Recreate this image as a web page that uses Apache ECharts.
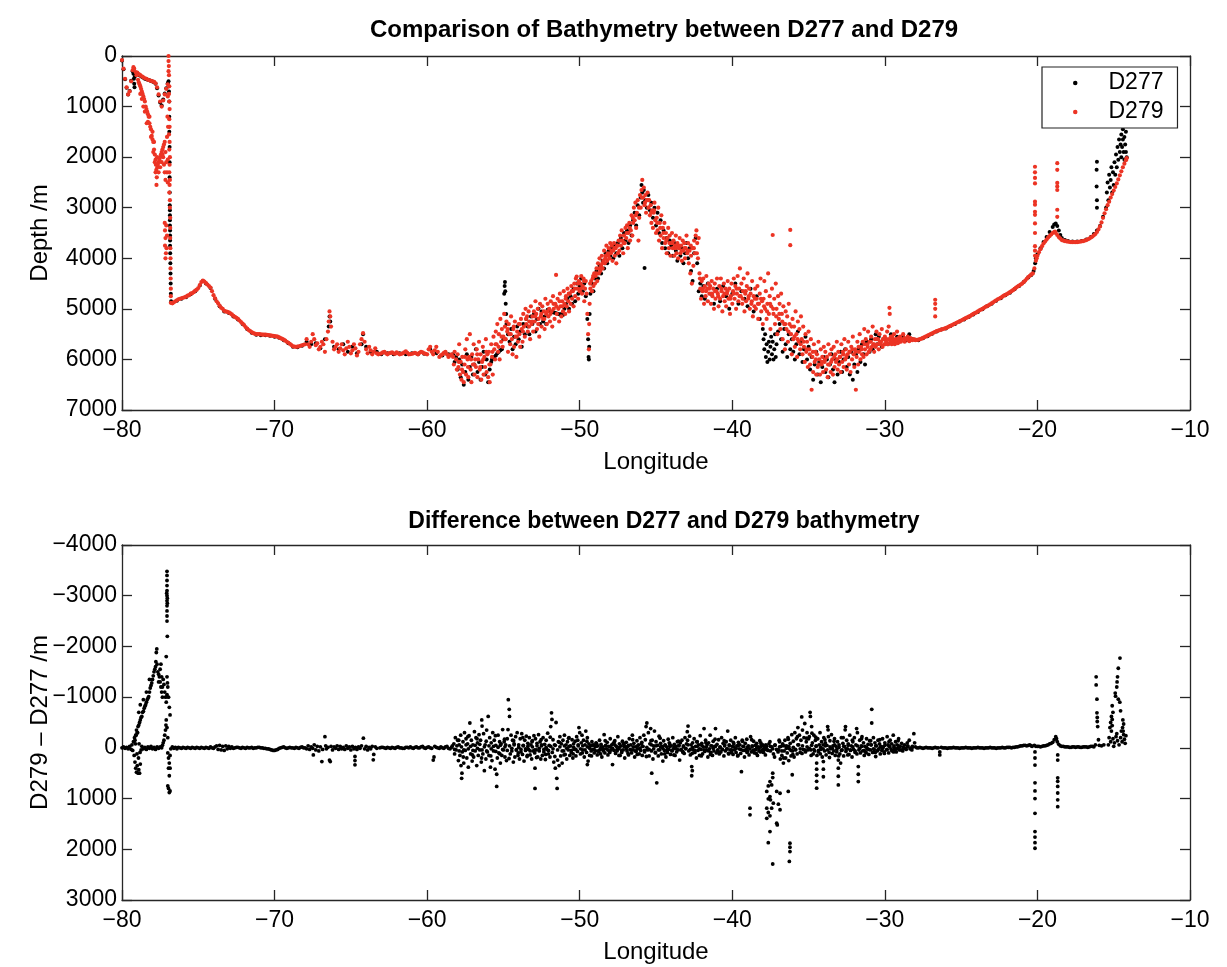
<!DOCTYPE html>
<html>
<head>
<meta charset="utf-8">
<script src="https://cdn.jsdelivr.net/npm/echarts@6/dist/echarts.min.js"></script>
<style>
html,body{margin:0;padding:0;background:#fff;}
#chart{width:1227px;height:967px;}
</style>
</head>
<body>
<div id="chart"></div>
<script>
// ---------- DATA (longitude, depth m) ----------
// D279 (red) top panel
const d279West = [[-80,80],[-79.9,250],[-79.8,450],[-79.7,620],[-79.6,760],[-79.5,700],[-79.4,500],[-79.3,280],[-79.25,220],[-79.2,250],[-79.1,320],[-79.0,330],[-78.9,360],[-78.8,380],[-78.7,400],[-78.6,420],[-78.5,440],[-78.4,450],[-78.3,470],[-78.2,480],[-78.1,490],[-78.0,500],[-77.9,510],[-77.8,540],[-77.7,620],[-77.6,760],[-77.5,900],[-77.4,1000],[-77.3,880],[-77.2,760],[-77.1,650],[-77.0,560],
[-79.05,380],[-78.95,470],[-78.9,520],[-78.85,560],[-78.8,600],[-78.75,650],[-78.7,700],[-78.65,750],[-78.6,800],[-78.55,850],[-78.5,900],[-78.45,1000],[-78.4,1050],[-78.35,1100],[-78.3,1150],[-78.25,1200],[-78.2,1330],[-78.15,1400],[-78.1,1450],[-78.05,1580],[-78.0,1650],[-77.95,1700],[-77.9,1850],[-77.85,1950],[-77.8,2050],[-77.78,2150],[-77.75,2250],[-77.72,2400],[-77.74,2550],[-77.68,2200],[-77.65,2150],[-77.6,2100],[-77.55,2050],[-77.5,2000],[-77.45,1950],[-77.4,1900],[-77.35,1850],[-77.3,1800],[-77.25,1750],[-77.2,1700],[-77.15,1900],[-77.1,2100],[-77.05,2300],[-77.0,2050],[-78.38,1330],[-78.6,1000],
[-78.3,1300],[-78.2,1200],[-78.1,1600],[-78.0,1500],[-77.9,1700],[-77.85,2100],[-77.95,1900],[-77.8,2300],[-77.7,2000],[-77.6,2300],[-77.5,2200],[-77.4,2100],[-77.3,2000],[-78.5,1100],[-78.7,850],[-78.8,750],
[-76.95,0],[-76.95,100],[-76.93,200],[-76.95,300],[-76.92,380],[-76.9,600],[-76.92,750],[-76.9,900],[-76.88,1050],[-76.9,1250],[-76.88,1400],[-76.92,1550],[-76.88,1700],[-76.9,1850],[-76.86,2000],[-76.88,2150],[-76.9,2300],[-76.86,2450],[-76.88,2550],[-76.9,2700],[-76.86,2850],[-76.86,3000],[-76.84,3200],[-76.84,3400],[-76.84,3600],[-76.83,3800],[-76.82,4000],[-76.82,4200],[-76.81,4400],[-76.8,4600],[-76.8,4750],
[-77.2,3300],[-77.18,3450],[-77.15,3600],[-77.18,3750],[-77.12,3900],[-77.15,4000],[-77.1,3350],[-77.05,3550],[-77.08,3800],[-77.35,1950],[-77.25,2150],[-77.2,2300],[-77.15,2450],[-77.05,1600],[-77.0,2500],[-77.02,1200],[-77.0,800],[-76.98,1400]];

const d279Shelf = [[-76.8,4880],[-76.7,4890],[-76.6,4870],[-76.5,4850],[-76.4,4830],[-76.3,4810],[-76.2,4800],[-76.1,4790],[-76.0,4780],[-75.9,4770],[-75.8,4760],[-75.7,4740],[-75.6,4730],[-75.5,4700],[-75.4,4690],[-75.3,4670],[-75.2,4640],[-75.1,4620],[-75.0,4590],[-74.9,4530],[-74.8,4470],[-74.7,4440],[-74.6,4460],[-74.5,4490],[-74.4,4520],[-74.3,4550],[-74.2,4580],[-74.1,4650],[-74.0,4730],[-73.9,4790],[-73.8,4850],[-73.7,4890],[-73.6,4940],[-73.5,4980],[-73.4,5000],[-73.3,5040],[-73.2,5050],[-73.1,5060],[-73.0,5070],[-72.9,5090],[-72.8,5110],[-72.7,5140],[-72.6,5160],[-72.5,5180],[-72.4,5200],[-72.3,5230],[-72.2,5260],[-72.1,5290],[-72.0,5320],[-71.9,5360],[-71.8,5390],[-71.7,5420],[-71.6,5440],[-71.5,5460],[-71.4,5480],[-71.3,5490],[-71.2,5500],[-71.1,5500],[-71.0,5500],[-70.9,5505],[-70.8,5510],[-70.7,5510],[-70.6,5510],[-70.5,5515],[-70.4,5520],[-70.3,5525],[-70.2,5530],[-70.1,5535],[-70.0,5540],[-69.9,5545],[-69.8,5550],[-69.7,5565],[-69.6,5580],[-69.5,5595],[-69.4,5610],[-69.3,5630],[-69.2,5650],[-69.1,5670],[-69.0,5690],[-68.9,5715],[-68.8,5740],[-68.7,5745],[-68.6,5750],[-68.5,5745],[-68.4,5740],[-68.3,5730],[-68.2,5720],[-68.1,5710],[-68.0,5700]];

const d279Plain = [[-67.9,5600],[-67.8,5700],[-67.7,5750],[-67.6,5650],[-67.5,5500],[-67.4,5600],[-67.3,5720],[-67.2,5680],[-67.1,5800],[-67.0,5750],[-66.9,5650],[-66.8,5700],[-66.7,5850],[-66.6,5600],[-66.5,5450],[-66.45,5250],[-66.4,5050],[-66.35,5150],[-66.3,5350],[-66.2,5650],[-66.1,5800],[-66.0,5750],[-65.9,5700],[-65.8,5850],[-65.7,5780],[-65.6,5700],[-65.5,5820],[-65.4,5900],[-65.3,5780],[-65.2,5650],[-65.1,5750],[-65.0,5880],[-64.9,5820],[-64.8,5700],[-64.7,5780],[-64.6,5920],[-64.5,5850],[-64.4,5700],[-64.3,5600],[-64.2,5480],[-64.1,5650],[-64.0,5800],[-63.9,5880],[-63.8,5750],[-63.7,5820],[-63.6,5900],[-63.5,5850],[-63.4,5780],[-63.3,5880],[-63.2,5900],[-63.1,5890],[-63.0,5880],[-62.9,5860],[-62.8,5850],[-62.7,5880],[-62.6,5900],[-62.5,5880],[-62.4,5870],[-62.3,5860],[-62.2,5880],[-62.1,5890],[-62.0,5860],[-61.9,5880],[-61.8,5900],[-61.7,5890],[-61.6,5880],[-61.5,5860],[-61.4,5840],[-61.3,5870],[-61.2,5900],[-61.1,5895],[-61.0,5890],[-60.9,5880],[-60.8,5870],[-60.7,5885],[-60.6,5900],[-60.5,5870],[-60.4,5850],[-60.3,5860],[-60.2,5880],[-60.1,5890],[-60.0,5900],[-59.9,5800],[-59.8,5750],[-59.7,5850],[-59.6,5900],[-59.5,5820],[-59.4,5750],[-59.3,5850],[-59.2,5950],[-59.1,5920],[-59.0,5900],[-58.9,5870],[-58.8,5850],[-58.7,5900],[-58.6,5950],[-58.5,5920],[-58.4,5900]];

const d279Ridge = [[-58.3,5950],[-58.25,6100],[-58.2,5850],[-58.1,6000],[-58.05,6200],[-58.0,5900],[-57.95,6150],[-57.9,5700],[-57.85,6300],[-57.8,6050],[-57.75,6400],[-57.7,5950],[-57.65,6250],[-57.6,6450],[-57.55,6100],[-57.5,5800],[-57.45,6300],[-57.4,5600],[-57.35,6000],[-57.3,6350],[-57.25,5950],[-57.2,5500],[-57.15,6200],[-57.1,6450],[-57.05,5900],[-57.0,6100],[-56.95,5700],[-56.9,6300],[-56.85,6000],[-56.8,6150],[-56.75,5800],[-56.7,6350],[-56.65,6000],[-56.6,5650],[-56.55,6200],[-56.5,5900],[-56.45,6400],[-56.4,6050],[-56.35,5750],[-56.3,6300],[-56.25,5950],[-56.2,6150],[-56.15,5600],[-56.1,6250],[-56.05,5900],[-56.0,6350],[-55.95,5850],[-55.9,6450],[-55.85,6100],[-55.8,5700],[-55.75,5950],[-55.7,6300],[-55.65,5550],[-55.6,5800],[-55.55,6000],[-55.5,5450],[-55.45,5700],[-55.4,5300],[-55.35,5850],[-55.3,5500],[-55.25,6000],[-55.2,5200],[-55.15,5650],[-55.1,5400],[-55.05,5750],[-55.0,5550],[-54.95,5100],[-54.9,5350],[-54.85,5600],[-54.8,5250],[-54.75,5450],[-54.7,5850],[-54.65,5300],[-54.6,5500],[-54.55,5700],[-54.5,5150],[-54.45,5600],[-54.4,5900],[-54.35,5400],[-54.3,5750],[-54.25,5250],[-54.2,5550],[-54.15,5950],[-54.1,5450],[-54.05,5650],[-54.0,5300],[-53.95,5500],[-53.9,5750],[-53.85,5200],[-53.8,5400],[-53.75,5650],[-53.7,5100],[-53.65,5350],[-53.6,5550],[-53.55,5000],[-53.5,5300],[-53.45,5150],[-53.4,5450],[-53.35,5050],[-53.3,5250],[-53.25,5600],[-53.2,4950],[-53.15,5300],[-53.1,5150],[-53.05,5450],[-53.0,5050],[-52.95,5250],[-52.9,4850],[-52.85,5100],[-52.8,5400],[-52.75,5000],[-52.7,5200],[-52.65,5550],[-52.6,4900],[-52.55,5150],[-52.5,5350],[-52.45,4950],[-52.4,5200],[-52.35,5050],[-52.3,5400],[-52.25,4800],[-52.2,5100],[-52.15,5300],[-52.1,4900],[-52.05,5150],[-52.0,5000],[-51.95,5250],[-51.9,4850],[-51.85,5050],[-51.8,5350],[-51.75,4750],[-51.7,5000],[-51.65,5200],[-51.6,4900],[-51.55,4330],[-51.5,5100],[-51.45,4800],[-51.4,5000],[-51.35,5250],[-51.3,4700],[-51.25,4950],[-51.2,5150],[-51.15,4850],[-51.1,5050],[-51.05,4650],[-51.0,4900],[-50.95,5100],[-50.9,4750],[-50.85,4950],[-50.8,4600],[-50.75,4850],[-50.7,5050],[-50.65,4700],[-50.6,4900],[-50.55,4550],[-50.5,4800],[-50.45,4650],[-50.4,4950],[-50.35,4500],[-50.3,4750],[-50.25,4400],[-50.2,4360],[-50.15,4600],[-50.1,4800],[-50.05,4450],[-50.0,4650],[-49.95,4500],[-49.9,4350],[-49.85,4700],[-49.8,4550],[-49.75,4400],[-49.7,4850],[-49.65,4600],[-49.6,4450],[-49.55,4700],[-49.5,5100],[-49.45,5500],[-49.4,5800],[-49.38,5300],[-49.35,4900],[-49.3,4600],[-49.25,4450],[-49.2,4650],[-49.15,4400],[-49.1,4550],[-49.05,4300],[-49.0,4500],[-48.95,4350],[-48.9,4200],[-48.85,4450],[-48.8,4100],[-48.75,4300],[-48.7,4000],[-48.65,4250],[-48.6,4150],[-48.55,3950],[-48.5,4200],[-48.45,4050],[-48.4,3850],[-48.35,4100],[-48.3,3950],[-48.25,3750],[-48.2,4050],[-48.15,3900],[-48.1,3800],[-48.05,4000],[-48.0,3700],[-47.95,3900],[-47.9,3750],[-47.85,4050],[-47.8,3850],[-47.75,3700],[-47.7,3950],[-47.65,3800],[-47.6,4100],[-47.55,3750],[-47.5,3900],[-47.45,3650],[-47.4,3850],[-47.35,3550],[-47.3,3750],[-47.25,3450],[-47.2,3650],[-47.15,3900],[-47.1,3550],[-47.05,3700],[-47.0,3400],[-46.95,3600],[-46.9,3350],[-46.85,3800],[-46.8,3500],[-46.75,3300],[-46.7,3650],[-46.65,3450],[-46.6,3150],[-46.55,3550],[-46.5,3300],[-46.45,3000],[-46.4,3250],[-46.35,2900],[-46.3,3400],[-46.25,3100],[-46.2,2850],[-46.15,3650],[-46.1,3200],[-46.05,2750],[-46.0,3000],[-45.95,2650],[-45.9,2450],[-45.85,2800],[-45.8,2600],[-45.75,2950],[-45.7,2750],[-45.65,3100],[-45.6,2850],[-45.55,2700],[-45.5,3000],[-45.45,2850],[-45.4,3150],[-45.35,2950],[-45.3,3300],[-45.25,3050],[-45.2,3400],[-45.15,3100],[-45.1,2900],[-45.05,3250],[-45.0,3500],[-44.95,3200],[-44.9,3450],[-44.85,3000],[-44.8,3650],[-44.75,3300],[-44.7,3550],[-44.65,3150],[-44.6,3800],[-44.55,3400],[-44.5,3600],[-44.45,3300],[-44.4,3700],[-44.35,3500],[-44.3,3900],[-44.25,3600],[-44.2,3400],[-44.15,3800],[-44.1,3550],[-44.05,3950],[-44.0,3700],[-43.95,3500],[-43.9,3800],[-43.85,3650],[-43.8,3950],[-43.75,3750],[-43.7,3550],[-43.65,3900],[-43.6,3700],[-43.55,4000],[-43.5,3800],[-43.45,3600],[-43.4,3900],[-43.35,3750],[-43.3,4050],[-43.25,3650],[-43.2,3850],[-43.15,3700],[-43.1,4000],[-43.05,3800],[-43.0,3550],[-42.95,3900],[-42.9,3700],[-42.85,4100],[-42.8,3850],[-42.75,4300],[-42.7,3950],[-42.65,4500],[-42.6,3800],[-42.55,4150],[-42.5,3650],[-42.45,3900],[-42.4,3550],[-42.35,3450],[-42.3,3700],[-42.25,4000],[-42.2,3600],[-42.15,4300],[-42.1,4600],[-42.05,4800],[-42.0,4450],[-41.95,4650],[-41.9,4400],[-41.85,4900],[-41.8,4550],[-41.75,4750],[-41.7,4350],[-41.65,4600],[-41.6,4850],[-41.55,4500],[-41.5,4700],[-41.45,4550],[-41.4,4900],[-41.35,4450],[-41.3,4750],[-41.25,4600],[-41.2,5000],[-41.15,4500],[-41.1,4800],[-41.05,4650],[-41.0,4400],[-40.95,4700],[-40.9,4950],[-40.85,4550],[-40.8,4800],[-40.75,4400],[-40.7,4650],[-40.65,5050],[-40.6,4750],[-40.55,4500],[-40.5,4850],[-40.45,4600],[-40.4,4950],[-40.35,4700],[-40.3,4450],[-40.25,4800],[-40.2,4600],[-40.15,5100],[-40.1,4750],[-40.05,4500],[-40.0,4900],[-39.95,4650],[-39.9,4400],[-39.85,4800],[-39.8,4550],[-39.75,5000],[-39.7,4700],[-39.65,4350],[-39.6,4850],[-39.55,4600],[-39.5,4200],[-39.45,4750],[-39.4,4500],[-39.35,4900],[-39.3,4650],[-39.25,4400],[-39.2,5050],[-39.15,4700],[-39.1,4850],[-39.05,4550],[-39.0,4300],[-38.95,4800],[-38.9,4600],[-38.85,5000],[-38.8,4700],[-38.75,4900],[-38.7,4450],[-38.65,5150],[-38.6,4750],[-38.55,4950],[-38.5,4600],[-38.45,5000],[-38.4,4800],[-38.35,4550],[-38.3,5200],[-38.25,4900],[-38.2,4700],[-38.15,4400],[-38.1,5050],[-38.05,4850],[-38.0,5300],[-37.95,4800],[-37.9,4450],[-37.85,5000],[-37.8,4650],[-37.75,5200],[-37.7,4900],[-37.65,4300],[-37.6,5100],[-37.55,4750],[-37.5,5400],[-37.45,4950],[-37.4,4600],[-37.35,3540],[-37.3,5100],[-37.25,4800],[-37.2,5300],[-37.15,4500],[-37.1,5000],[-37.05,5500],[-37.0,4750],[-36.95,5200],[-36.9,4900],[-36.85,5400],[-36.8,4700],[-36.75,5100],[-36.7,5600],[-36.65,4950],[-36.6,5300],[-36.55,5800],[-36.5,5050],[-36.45,5400],[-36.4,5150],[-36.35,5650],[-36.3,4900],[-36.25,5300],[-36.2,3440],[-36.2,3740],[-36.15,5500],[-36.1,5900],[-36.05,5200],[-36.0,5600],[-35.95,5350],[-35.9,5750],[-35.85,5050],[-35.8,5500],[-35.75,5950],[-35.7,5250],[-35.65,5650],[-35.6,5400],[-35.55,5800],[-35.5,5150],[-35.45,5600],[-35.4,5900],[-35.35,5350],[-35.3,5750],[-35.25,6050],[-35.2,5500],[-35.15,5850],[-35.1,5650],[-35.05,6150],[-35.0,5450],[-34.95,5800],[-34.9,6100],[-34.85,5600],[-34.8,6600],[-34.75,5950],[-34.7,6250],[-34.65,5700],[-34.6,6050],[-34.55,5850],[-34.5,6300],[-34.45,5900],[-34.4,6150],[-34.35,5650],[-34.3,6000],[-34.25,6300],[-34.2,5800],[-34.15,6100],[-34.1,5950],[-34.05,6250],[-34.0,5750],[-33.95,6050],[-33.9,5850],[-33.85,6200],[-33.8,5950],[-33.75,6350],[-33.7,5700],[-33.65,6100],[-33.6,5900],[-33.55,6250],[-33.5,5800],[-33.45,6000],[-33.4,6300],[-33.35,5750],[-33.3,6150],[-33.25,5900],[-33.2,6050],[-33.15,5650],[-33.1,6200],[-33.05,5850],[-33.0,6100],[-32.95,5950],[-32.9,6250],[-32.85,5700],[-32.8,6050],[-32.75,5850],[-32.7,6150],[-32.65,5600],[-32.6,6000],[-32.55,5800],[-32.5,6200],[-32.45,5900],[-32.4,5650],[-32.35,6100],[-32.3,5850],[-32.25,6250],[-32.2,5750],[-32.15,6000],[-32.1,5550],[-32.05,5900],[-32.0,6150],[-31.95,5800],[-31.9,6600],[-31.85,5950],[-31.8,5650],[-31.75,6100],[-31.7,5850],[-31.65,5500],[-31.6,6000],[-31.55,5750],[-31.5,5900],[-31.45,5650],[-31.4,5950],[-31.35,5400],[-31.3,5800],[-31.25,5600],[-31.2,5900],[-31.15,5700],[-31.1,5450],[-31.05,5850],[-31.0,5650],[-30.95,5800],[-30.9,5550],[-30.85,5750],[-30.8,5350],[-30.75,5700],[-30.7,5850],[-30.65,5600],[-30.6,5750],[-30.55,5450],[-30.5,5700],[-30.45,5600],[-30.4,5800],[-30.35,5500],[-30.3,5700],[-30.25,5650],[-30.2,5400],[-30.15,5750],[-30.1,5600],[-30.05,5700],[-30.0,5550],[-29.95,5700],[-29.9,5600],[-29.85,5450],[-29.8,5700],[-29.75,5350],[-29.7,4980],[-29.68,5100],[-29.65,5650],[-29.6,5550],[-29.55,5700],[-29.5,5600],[-29.45,5650],[-29.4,5500],[-29.35,5700],[-29.3,5600],[-29.25,5650],[-29.2,5450],[-29.15,5680],[-29.1,5600],[-29.05,5650],[-29.0,5550],[-28.95,5650],[-28.9,5600],[-28.8,5500],[-28.7,5650],[-28.6,5600],[-28.5,5550],[-28.4,5640],[-28.3,5600],[-28.2,5620],[-28.1,5600]];

const d279RidgeCore = [[-57.92,6050],[-57.72,6200],[-57.52,5950],[-57.32,6150],[-57.12,6000],[-56.92,6100],[-56.72,5900],[-56.52,6150],[-56.32,6000],[-56.12,5850],[-55.92,6100],[-55.72,5850],[-55.52,5700],[-55.32,5750],[-55.12,5550],[-54.92,5600],[-54.72,5400],[-54.52,5500],[-54.32,5350],[-54.12,5550],[-53.92,5300],[-53.72,5450],[-53.52,5200],[-53.32,5350],[-53.12,5250],[-52.92,5150],[-52.72,5300],[-52.52,5100],[-52.32,5200],[-52.12,5050],[-51.92,5100],[-51.72,4900],[-51.52,4950],[-51.32,4850],[-51.12,4950],[-50.92,4800],[-50.72,4700],[-50.52,4650],[-50.32,4600],[-50.12,4500],[-49.92,4600],[-49.72,4450],[-49.32,4500],[-49.12,4350],[-48.92,4300],[-48.72,4200],[-48.52,4100],[-48.32,4000],[-48.12,3950],[-47.92,3850],[-47.72,3800],[-47.52,3750],[-47.32,3650],[-47.12,3700],[-46.92,3500],[-46.72,3400],[-46.52,3200],[-46.32,3150],[-46.12,3000],[-45.92,2800],[-45.72,2900],[-45.52,2850],[-45.32,3100],[-45.12,3050],[-44.92,3300],[-44.72,3400],[-44.52,3500],[-44.32,3650],[-44.12,3700],[-43.92,3700],[-43.72,3800],[-43.52,3750],[-43.32,3850],[-43.12,3800],[-42.92,3850],[-42.72,3750],[-42.52,3800],[-42.32,3900],[-42.12,4400],[-41.92,4600],[-41.72,4650],[-41.52,4600],[-41.32,4700],[-41.12,4650],[-40.92,4750],[-40.72,4600],[-40.52,4700],[-40.32,4650],[-40.12,4800],[-39.92,4700],[-39.72,4600],[-39.52,4750],[-39.32,4800],[-39.12,4650],[-38.92,4750],[-38.72,4850],[-38.52,4800],[-38.32,4900],[-38.12,4800],[-37.92,4950],[-37.72,5050],[-37.52,4900],[-37.32,5000],[-37.12,5150],[-36.92,5100],[-36.72,5250],[-36.52,5300],[-36.32,5450],[-36.12,5350],[-35.92,5550],[-35.72,5600],[-35.52,5700],[-35.32,5650],[-35.12,5800],[-34.92,5900],[-34.72,5850],[-34.52,6000],[-34.32,6100],[-34.12,6050],[-33.92,6000],[-33.72,6100],[-33.52,6050],[-33.32,5950],[-33.12,6000],[-32.92,5950],[-32.72,5900],[-32.52,5950],[-32.32,5850],[-32.12,5800],[-31.92,5850],[-31.72,5750],[-31.52,5800],[-31.32,5700],[-31.12,5750],[-30.92,5650],[-30.72,5700],[-30.52,5600],[-30.32,5650],[-30.12,5600],[-29.92,5650],[-29.72,5600],[-29.52,5550],[-29.32,5620],[-29.12,5580],[-28.92,5620],[-28.72,5580],[-28.52,5600],[-28.32,5580]];

const d279East = [[-28.0,5620],[-27.9,5615],[-27.8,5610],[-27.7,5600],[-27.6,5590],[-27.5,5575],[-27.4,5560],[-27.3,5545],[-27.2,5530],[-27.1,5515],[-27.0,5500],[-26.9,5485],[-26.8,5470],[-26.7,5455],[-26.6,5440],[-26.5,5430],[-26.4,5420],[-26.3,5410],[-26.2,5400],[-26.1,5390],[-26.0,5380],[-25.9,5365],[-25.8,5350],[-25.7,5335],[-25.6,5320],[-25.5,5305],[-25.4,5290],[-25.3,5275],[-25.2,5260],[-25.1,5245],[-25.0,5230],[-24.9,5215],[-24.8,5200],[-24.7,5185],[-24.6,5170],[-24.5,5155],[-24.4,5140],[-24.3,5120],[-24.2,5100],[-24.1,5085],[-24.0,5070],[-23.9,5050],[-23.8,5030],[-23.7,5015],[-23.6,5000],[-23.5,4980],[-23.4,4960],[-23.3,4945],[-23.2,4930],[-23.1,4910],[-23.0,4890],[-22.9,4870],[-22.8,4850],[-22.7,4830],[-22.6,4810],[-22.5,4795],[-22.4,4780],[-22.3,4760],[-22.2,4740],[-22.1,4725],[-22.0,4710],[-21.9,4690],[-21.8,4670],[-21.7,4650],[-21.6,4630],[-21.5,4605],[-21.4,4580],[-21.3,4560],[-21.2,4540],[-21.1,4520],[-21.0,4500],[-20.9,4470],[-20.8,4440],[-20.7,4405],[-20.6,4370],[-20.5,4345],[-20.4,4320],[-20.3,4300],[-20.2,4200],[-20.1,4050],[-20.05,4000],[-20.0,3950],[-19.9,3880],[-19.8,3820],[-19.7,3760],[-19.6,3710],[-19.5,3670],[-19.4,3630],[-19.3,3590],[-19.2,3560],[-19.1,3530],[-19.0,3500],[-18.9,3480],[-18.85,3470],[-18.8,3500],[-18.7,3540],[-18.6,3580],[-18.5,3610],[-18.4,3640],[-18.3,3650],[-18.2,3660],[-18.1,3665],[-18.0,3670],[-17.9,3675],[-17.8,3680],[-17.7,3680],[-17.6,3680],[-17.5,3680],[-17.4,3680],[-17.3,3675],[-17.2,3670],[-17.1,3665],[-17.0,3660],[-16.9,3650],[-16.8,3640],[-16.7,3625],[-16.6,3610],[-16.5,3590],[-16.4,3570],[-16.3,3545],[-16.2,3520],[-16.1,3480],[-16.0,3430],[-15.9,3370],[-15.8,3290],[-15.7,3200],[-15.6,3110],[-15.5,3030],[-15.4,2950],[-15.3,2880],[-15.2,2800],[-15.1,2730],[-15.0,2660],[-14.9,2590],[-14.8,2520],[-14.7,2440],[-14.6,2360],[-14.5,2280],[-14.4,2200],[-14.3,2130],[-14.2,2060],[-14.15,2020],
[-20.16,2190],[-20.16,2300],[-20.16,2410],[-20.16,2520],[-20.16,2880],[-20.16,2940],[-20.16,3080],[-20.16,3140],[-20.16,3310],[-20.16,3500],[-20.16,3760],[-20.16,3850],[-20.16,3950],
[-18.7,2120],[-18.7,2250],[-18.7,2510],[-18.7,2580],[-18.7,2650],[-18.7,3040],[-18.7,3180],
[-26.7,4820],[-26.7,4900],[-26.7,5000],[-26.7,5150]];

// D277 (black) top panel
const d277West = [[-80,90],[-79.9,260],[-79.8,460],[-79.7,630],[-79.6,760],[-79.5,690],[-79.4,490],[-79.3,300],[-79.25,350],[-79.22,450],[-79.2,550],[-79.18,620],[-79.15,400],[-79.1,330],[-79.0,340],[-78.9,370],[-78.8,390],[-78.7,410],[-78.6,430],[-78.5,450],[-78.4,460],[-78.3,470],[-78.2,480],[-78.1,495],[-78.0,505],[-77.9,520],[-77.8,550],[-77.7,640],[-77.6,780],[-77.5,920],[-77.4,980],[-77.3,860],[-77.2,740],[-77.1,640],[-77.0,540],[-76.95,500],[-76.92,700],[-76.9,900],[-76.9,1200],[-76.9,1500],[-76.88,1800],[-76.88,2100],[-76.88,2400],[-76.87,2700],[-76.87,2950],[-76.86,3050],[-76.86,3150],[-76.86,3250],[-76.86,3350],[-76.85,3450],[-76.85,3550],[-76.85,3650],[-76.85,3750],[-76.84,3900],[-76.83,4100],[-76.82,4300],[-76.81,4500],[-76.8,4700],[-76.78,4850]];

const d277Shelf = [[-76.7,4880],[-76.4,4840],[-76.1,4800],[-75.8,4770],[-75.5,4710],[-75.2,4650],[-74.9,4540],[-74.7,4450],[-74.5,4500],[-74.2,4590],[-73.9,4800],[-73.6,4950],[-73.3,5050],[-73.0,5080],[-72.7,5150],[-72.4,5210],[-72.1,5300],[-71.8,5400],[-71.5,5470],[-71.2,5510],[-70.9,5520],[-70.6,5520],[-70.3,5530],[-70.0,5550],[-69.7,5570],[-69.4,5620],[-69.1,5680],[-68.8,5750],[-68.5,5760],[-68.2,5730]];

const d277Plain = [[-67.9,5650],[-67.6,5700],[-67.3,5680],[-67.0,5780],[-66.7,5600],[-66.45,5350],[-66.4,5150],[-66.35,5250],[-66.1,5750],[-65.8,5800],[-65.5,5700],[-65.2,5850],[-64.9,5750],[-64.6,5880],[-64.3,5700],[-64.2,5500],[-64.0,5750],[-63.7,5850],[-63.3,5850],[-63.0,5900],[-62.6,5880],[-62.2,5900],[-61.8,5880],[-61.4,5900],[-61.0,5880],[-60.6,5900],[-60.2,5890],[-59.8,5800],[-59.4,5880],[-59.0,5920],[-58.6,5900]];

const d277Ridge = [[-58.3,5900],[-58.2,6050],[-58.1,5950],[-58.0,6200],[-57.9,6000],[-57.8,6350],[-57.7,6100],[-57.6,6500],[-57.5,6250],[-57.4,5900],[-57.3,6400],[-57.2,6150],[-57.1,5950],[-57.0,6300],[-56.9,6100],[-56.8,5800],[-56.7,6250],[-56.6,6050],[-56.5,6400],[-56.4,6150],[-56.3,5850],[-56.2,6300],[-56.1,6000],[-56.0,6450],[-55.9,6200],[-55.8,6050],[-55.75,6000],[-55.7,5980],[-55.6,5950],[-55.5,5920],[-55.4,5880],[-55.3,5850],[-55.2,5820],[-55.1,5800],[-55.0,5600],[-54.95,4700],[-54.92,4550],[-54.9,4470],[-54.88,4650],[-54.85,4900],[-54.82,5100],[-54.8,5300],[-54.7,5500],[-54.6,5650],[-54.5,5400],[-54.4,5800],[-54.3,5550],[-54.2,5700],[-54.1,5350],[-54.0,5600],[-53.9,5450],[-53.8,5750],[-53.7,5300],[-53.6,5500],[-53.5,5200],[-53.4,5350],[-53.3,5500],[-53.2,5150],[-53.1,5300],[-53.0,5100],[-52.9,5450],[-52.8,5200],[-52.7,5000],[-52.6,5300],[-52.5,5050],[-52.4,5250],[-52.3,5150],[-52.2,5300],[-52.1,5020],[-52.0,5040],[-51.9,5050],[-51.8,5060],[-51.7,5070],[-51.6,5080],[-51.5,5090],[-51.4,5100],[-51.3,5110],[-51.2,5100],[-51.1,5120],[-51.0,5000],[-50.9,4900],[-50.8,4800],[-50.7,5000],[-50.6,4750],[-50.5,4900],[-50.4,4600],[-50.3,4850],[-50.2,4500],[-50.1,4700],[-50.0,4550],[-49.9,4400],[-49.8,4650],[-49.7,4500],[-49.6,4750],[-49.5,5200],[-49.45,5600],[-49.42,5950],[-49.4,6000],[-49.38,5750],[-49.35,5100],[-49.3,4700],[-49.2,4500],[-49.1,4650],[-49.0,4400],[-48.9,4250],[-48.8,4400],[-48.7,4150],[-48.6,4300],[-48.5,4050],[-48.4,4200],[-48.3,3900],[-48.2,4100],[-48.1,3850],[-48.0,3950],[-47.9,3800],[-47.8,4000],[-47.7,3750],[-47.6,3900],[-47.5,3700],[-47.4,3950],[-47.3,3600],[-47.2,3800],[-47.1,3500],[-47.0,3650],[-46.9,3450],[-46.8,3700],[-46.7,3350],[-46.6,3550],[-46.5,3250],[-46.4,3100],[-46.3,3350],[-46.2,2950],[-46.1,3150],[-46.0,2800],[-45.95,2550],[-45.9,2700],[-45.85,2900],[-45.8,2650],[-45.75,4190],[-45.7,2850],[-45.6,3000],[-45.5,2750],[-45.4,3050],[-45.3,2900],[-45.2,3200],[-45.1,3000],[-45.0,3350],[-44.9,3100],[-44.8,3500],[-44.7,3250],[-44.6,3700],[-44.5,3450],[-44.4,3800],[-44.3,3600],[-44.2,3900],[-44.1,3650],[-44.0,3750],[-43.9,3950],[-43.8,3700],[-43.7,3850],[-43.6,4050],[-43.5,3750],[-43.4,3950],[-43.3,3800],[-43.2,4100],[-43.1,3900],[-43.0,3700],[-42.9,4000],[-42.8,3800],[-42.7,4250],[-42.6,4450],[-42.5,3900],[-42.4,3600],[-42.3,4100],[-42.2,4650],[-42.1,4500],[-42.0,4750],[-41.9,4550],[-41.8,4800],[-41.6,4500],[-41.4,4700],[-41.2,4900],[-41.0,4600],[-40.8,4850],[-40.6,4550],[-40.4,4750],[-40.2,5000],[-40.0,4700],[-39.8,4500],[-39.6,4900],[-39.4,4650],[-39.2,4800],[-39.0,4950],[-38.8,4600],[-38.6,5050],[-38.4,4750],[-38.2,5200],[-38.0,5400],[-37.95,5600],[-37.9,5800],[-37.85,5500],[-37.8,5950],[-37.75,5700],[-37.7,6050],[-37.65,5850],[-37.6,5650],[-37.55,6000],[-37.5,5750],[-37.45,5550],[-37.4,5900],[-37.35,5650],[-37.3,6000],[-37.25,5800],[-37.2,5500],[-37.15,5950],[-37.1,5700],[-37.0,5450],[-36.9,5300],[-36.8,5600],[-36.7,5850],[-36.6,5400],[-36.5,5700],[-36.4,5950],[-36.3,5500],[-36.2,5800],[-36.1,5600],[-36.0,5850],[-35.9,6000],[-35.8,5700],[-35.7,5450],[-35.6,5900],[-35.5,5650],[-35.4,6050],[-35.3,5800],[-35.2,5550],[-35.1,6000],[-35.0,5750],[-34.9,6200],[-34.8,5950],[-34.7,6400],[-34.6,6100],[-34.5,5850],[-34.4,6300],[-34.3,6050],[-34.2,6450],[-34.1,6150],[-34.0,5950],[-33.9,6250],[-33.8,6000],[-33.7,6350],[-33.6,6100],[-33.5,5900],[-33.4,6200],[-33.3,6450],[-33.2,6000],[-33.1,6300],[-33.0,6050],[-32.9,5850],[-32.8,6250],[-32.7,6000],[-32.6,5800],[-32.5,6150],[-32.4,5950],[-32.3,6300],[-32.2,5850],[-32.1,6400],[-32.0,6100],[-31.9,5900],[-31.8,6250],[-31.7,5800],[-31.6,6050],[-31.5,5700],[-31.4,5900],[-31.3,6100],[-31.2,5650],[-31.0,5850],[-30.9,5600],[-30.8,5800],[-30.6,5500],[-30.5,5700],[-30.4,5550],[-30.2,5750],[-30.0,5600],[-29.8,5700],[-29.6,5500],[-29.4,5650],[-29.2,5550],[-29.0,5600],[-28.8,5550],[-28.6,5620],[-28.4,5500],[-28.2,5600]];

const d277East = [[-28.0,5610],[-27.8,5620],[-27.5,5580],[-27.2,5540],[-26.9,5490],[-26.6,5450],[-26.3,5410],[-26.0,5390],[-25.7,5340],[-25.4,5300],[-25.1,5250],[-24.8,5210],[-24.5,5160],[-24.2,5110],[-23.9,5060],[-23.6,5010],[-23.3,4950],[-23.0,4900],[-22.7,4840],[-22.4,4790],[-22.1,4730],[-21.8,4680],[-21.5,4610],[-21.2,4550],[-20.9,4470],[-20.6,4380],[-20.4,4330],[-20.25,4250],[-20.15,4100],[-20.1,4000],[-20.0,3920],[-19.8,3800],[-19.6,3680],[-19.4,3580],[-19.2,3480],[-19.0,3380],[-18.9,3330],[-18.8,3310],[-18.7,3360],[-18.6,3450],[-18.5,3540],[-18.4,3600],[-18.2,3640],[-18.0,3660],[-17.7,3670],[-17.4,3670],[-17.1,3660],[-16.8,3630],[-16.5,3580],[-16.3,3520],[-16.1,3450],[-16.1,3000],[-16.1,2850],[-16.12,2580],[-16.12,2250],[-16.1,2090],[-15.9,3360],[-15.7,3180],[-15.5,3000],[-15.45,2700],[-15.4,2500],[-15.35,2850],[-15.3,2350],[-15.25,2600],[-15.2,2450],[-15.15,2200],[-15.1,2700],[-15.05,2300],[-15.0,2550],[-14.95,2100],[-14.9,2350],[-14.85,1950],[-14.8,2200],[-14.75,1800],[-14.7,2050],[-14.65,1650],[-14.6,1900],[-14.55,1750],[-14.5,1550],[-14.5,2000],[-14.45,1800],[-14.4,1450],[-14.4,1650],[-14.35,1900],[-14.3,1600],[-14.3,2050],[-14.25,1750],[-14.2,1500],[-14.2,1900],[-14.15,2000],[-14.6,620],[-14.7,900],[-14.75,1100],[-14.8,1300]];

// D279 - D277 difference (bottom panel)
const diffWest = [[-80,0],[-79.9,-20],[-79.8,10],[-79.7,-10],[-79.6,20],[-79.5,-30],[-79.4,30],[-79.35,-60],[-79.3,50],[-79.25,-120],[-79.2,150],[-79.18,-200],[-79.15,280],[-79.12,-80],[-79.1,400],[-79.08,-250],[-79.05,480],[-79.02,120],[-79.0,350],[-78.98,-300],[-78.95,500],[-78.92,200],[-78.9,430],[-78.88,-80],[-78.85,500],[-78.82,90],[-78.8,320],[-78.75,40],[-78.7,-30],[-78.6,20],[-78.5,-10],[-78.4,30],[-78.3,-20],[-78.2,10],[-78.1,-30],[-78.0,20],[-77.9,-10],[-77.8,30],[-77.7,-20],[-77.6,10],[-77.5,-20],[-77.4,0],
[-79.15,-150],[-79.1,-250],[-79.05,-350],[-79.0,-300],[-78.95,-420],[-78.9,-450],[-78.85,-500],[-78.8,-550],[-78.75,-600],[-78.7,-620],[-78.65,-700],[-78.6,-720],[-78.55,-780],[-78.5,-820],[-78.45,-850],[-78.4,-900],[-78.35,-950],[-78.3,-980],[-78.25,-1010],[-78.2,-1100],[-78.15,-1180],[-78.1,-1230],[-78.05,-1280],[-78.0,-1350],[-77.95,-1420],[-77.9,-1500],[-77.85,-1550],[-77.8,-1600],[-77.78,-1700],[-77.75,-1880],[-77.72,-1950],[-77.7,-1650],[-77.65,-1500],[-77.6,-1450],[-77.55,-1400],[-77.5,-1300],[-77.45,-1200],[-77.4,-1100],[-77.35,-1000],[-78.9,-700],[-78.8,-850],[-78.6,-950],[-78.4,-1100],[-78.2,-1350],
[-77.6,-1300],[-77.5,-1550],[-77.45,-1650],[-77.4,-1400],[-77.35,-1200],[-77.3,-1350],[-77.25,-1250],[-77.2,-1100],[-77.15,-1000],[-77.1,-900],[-77.05,-1050],[-77.0,-1200],[-76.95,-1000],[-76.9,-800],[-76.85,-650],[-77.1,-1800],[-77.05,-1400],[-77.02,-1280],[-77.05,-1010],
[-77.05,-3480],[-77.05,-3400],[-77.05,-3300],[-77.05,-3200],[-77.05,-3100],[-77.05,-3000],[-77.05,-2900],[-77.05,-2800],[-77.05,-2700],[-77.05,-2600],[-77.05,-2500],[-77.03,-2950],[-77.03,-2850],[-77.07,-3050],[-77.03,-2200],
[-77.35,-50],[-77.3,-100],[-77.25,-150],[-77.2,-250],[-77.15,-350],[-77.12,-450],[-77.1,-550],[-77.05,-400],[-77.0,-200],
[-77.0,100],[-76.95,200],[-76.9,300],[-76.95,400],[-76.85,150],[-76.9,550],[-77.0,750],[-76.95,800],[-76.9,880],[-76.85,850],[-76.85,400],
[-76.8,20],[-76.7,-20],[-76.6,10],[-76.5,-10],[-76.4,20],[-76.3,-10],[-76.2,0],[-76.1,10],[-76.0,-10],[-75.9,0],[-75.8,10],[-75.7,-10],[-75.6,0],[-75.5,10],[-75.4,-10],[-75.3,0],[-75.2,10],[-75.1,-10],[-75.0,0],[-74.9,10],[-74.8,-10],[-74.7,0],[-74.6,10],[-74.5,-10],[-74.4,0],[-74.3,10],[-74.2,-20],[-74.1,0],[-74.0,10],[-73.9,-20],[-73.8,-40],[-73.7,30],[-73.6,-50],[-73.5,40],[-73.4,-30],[-73.3,50],[-73.2,-40],[-73.1,20],[-73.0,-30],[-72.9,10],[-72.8,-20],[-72.7,10],[-72.6,0],[-72.5,-10],[-72.4,-10],[-72.3,0],[-72.2,10],[-72.1,-10],[-72.0,0],[-71.9,10],[-71.8,-10],[-71.7,0],[-71.6,0],[-71.5,-10],[-71.4,10],[-71.3,0],[-71.2,0],[-71.1,-10],[-71.0,-10],[-70.9,0],[-70.8,0],[-70.7,10],[-70.6,10],[-70.5,20],[-70.4,20],[-70.3,30],[-70.2,40],[-70.1,50],[-70.0,50],[-69.9,40],[-69.8,30],[-69.7,10],[-69.6,0],[-69.5,-10],[-69.4,-20],[-69.3,0],[-69.2,10],[-69.1,0],[-69.0,-10],[-68.9,0],[-68.8,0],[-68.7,10],[-68.6,-10],[-68.5,0],[-68.4,10],[-68.3,-10],[-68.2,-20],[-68.1,0],[-68.0,0]];

const diffPlain = [[-67.9,20],[-67.8,-40],[-67.7,30],[-67.6,-20],[-67.5,10],[-67.46,140],[-67.4,-60],[-67.3,40],[-67.2,-30],[-67.1,60],[-67.0,-20],[-66.9,270],[-66.85,30],[-66.7,-220],[-66.65,-40],[-66.6,20],[-66.5,-10],[-66.4,240],[-66.35,270],[-66.3,-30],[-66.2,40],[-66.1,-20],[-66.0,10],[-65.9,-40],[-65.8,30],[-65.7,-30],[-65.6,20],[-65.5,-10],[-65.4,30],[-65.3,-40],[-65.2,10],[-65.1,-20],[-65.0,40],[-64.9,-30],[-64.8,20],[-64.73,170],[-64.73,250],[-64.73,335],[-64.7,-10],[-64.6,30],[-64.5,-20],[-64.4,10],[-64.3,-40],[-64.18,-190],[-64.1,20],[-64.0,-30],[-63.9,40],[-63.8,-10],[-63.7,20],[-63.6,-30],[-63.53,235],[-63.5,130],[-63.4,-20],[-63.3,10],[-63.1,0],[-63.0,-10],[-62.9,-10],[-62.8,0],[-62.7,10],[-62.6,-10],[-62.5,0],[-62.4,10],[-62.3,-10],[-62.2,0],[-62.1,10],[-62.0,-10],[-61.9,-20],[-61.8,0],[-61.7,0],[-61.6,10],[-61.5,10],[-61.4,-10],[-61.3,-10],[-61.2,0],[-61.1,-20],[-61.0,0],[-60.9,10],[-60.8,-10],[-60.7,-20],[-60.6,0],[-60.5,0],[-60.4,-20],[-60.3,-30],[-60.2,0],[-60.1,10],[-60.0,-10],[-59.9,-20],[-59.8,0],[-59.7,10],[-59.6,240],[-59.55,180],[-59.5,-30],[-59.4,-10],[-59.3,0],[-59.2,10],[-59.1,-20],[-59.0,0],[-58.9,10],[-58.8,-20],[-58.7,-30],[-58.6,10],[-58.5,20],[-58.4,-10],[-58.35,-40]];

const diffRidge = [[-58.25,-80],[-58.2,120],[-58.15,-200],[-58.1,40],[-58.0,-150],[-57.95,250],[-57.9,-60],[-57.85,150],[-57.8,-250],[-57.78,350],[-57.74,600],[-57.72,500],[-57.7,80],[-57.65,-120],[-57.6,300],[-57.55,-300],[-57.5,50],[-57.45,-180],[-57.4,200],[-57.35,-80],[-57.3,380],[-57.25,-240],[-57.2,-490],[-57.15,120],[-57.1,-150],[-57.05,260],[-57.0,-60],[-56.95,180],[-56.9,-320],[-56.85,60],[-56.8,-200],[-56.75,350],[-56.7,-100],[-56.65,150],[-56.6,-260],[-56.55,40],[-56.5,-150],[-56.45,280],[-56.42,-550],[-56.4,-430],[-56.35,120],[-56.3,-280],[-56.25,450],[-56.2,-60],[-56.15,220],[-56.1,-350],[-56.05,80],[-56.0,-620],[-55.95,150],[-55.9,-200],[-55.85,380],[-55.8,-100],[-55.75,250],[-55.7,-300],[-55.65,60],[-55.6,-150],[-55.55,420],[-55.5,-50],[-55.44,760],[-55.44,520],[-55.4,200],[-55.35,-250],[-55.3,100],[-55.25,-120],[-55.2,300],[-55.15,-80],[-55.1,150],[-55.05,-360],[-55.0,40],
[-54.95,-120],[-54.9,180],[-54.85,-60],[-54.8,250],[-54.75,-180],[-54.7,-360],[-54.68,-950],[-54.62,-760],[-54.6,-620],[-54.55,120],[-54.5,-250],[-54.45,60],[-54.4,-150],[-54.35,280],[-54.3,-80],[-54.25,180],[-54.2,-220],[-54.15,40],[-54.1,-300],[-54.05,150],[-54.0,-60],[-53.95,220],[-53.9,-180],[-53.85,80],[-53.8,-280],[-53.75,130],[-53.7,-40],[-53.65,260],[-53.6,-150],[-53.55,50],[-53.5,-230],[-53.45,170],[-53.4,-90],[-53.35,30],[-53.3,-200],[-53.25,140],[-53.2,-60],[-53.15,220],[-53.1,-140],[-53.05,60],[-53.0,-240],[-52.93,400],[-52.93,800],
[-52.95,100],[-52.9,-180],[-52.85,40],[-52.8,-90],[-52.75,180],[-52.7,-260],[-52.65,60],[-52.6,-120],[-52.55,220],[-52.5,-40],[-52.45,150],[-52.4,-200],[-52.35,80],[-52.3,-70],[-52.25,230],[-52.2,-150],[-52.15,30],[-52.1,-290],[-52.05,120],[-52.0,-50],[-51.95,180],[-51.9,-420],[-51.85,-690],[-51.82,-560],[-51.8,90],[-51.75,-160],[-51.7,280],[-51.65,-60],[-51.6,400],[-51.55,-500],[-51.5,600],[-51.48,800],[-51.45,240],[-51.4,-120],[-51.35,350],[-51.3,-220],[-51.25,160],[-51.2,-80],[-51.15,300],[-51.1,-150],[-51.05,60],[-51.0,-250],[-50.95,130],[-50.9,-60],[-50.85,220],[-50.8,-120],[-50.75,40],[-50.7,-200],[-50.65,150],[-50.6,-40],[-50.55,90],[-50.5,-160],[-50.45,200],[-50.4,-80],[-50.35,30],[-50.3,-130],[-50.25,160],[-50.2,-220],[-50.15,70],[-50.1,-40],[-50.05,-400],[-50.0,-300],
[-49.95,120],[-49.9,-100],[-49.85,-250],[-49.8,40],[-49.75,-150],[-49.7,180],[-49.65,-60],[-49.6,-330],[-49.55,90],[-49.5,-200],[-49.5,330],[-49.45,260],[-49.4,-80],[-49.35,150],[-49.3,-40],[-49.25,60],[-49.2,-120],[-49.15,30],[-49.1,-60],[-49.05,100],[-49.0,-30],[-48.95,60],[-48.9,-90],[-48.85,140],[-48.8,-40],[-48.75,80],[-48.7,-150],[-48.65,30],[-48.6,-70],[-48.55,180],[-48.5,-20],[-48.45,60],[-48.4,-260],[-48.35,100],[-48.3,-50],[-48.25,20],[-48.2,-110],[-48.15,140],[-48.1,-30],[-48.05,70],[-48.0,-180],[-47.95,40],[-47.9,-60],[-47.85,330],[-47.8,-90],[-47.75,50],[-47.7,-140],[-47.65,110],[-47.6,-30],[-47.55,60],[-47.5,-220],[-47.45,20],[-47.4,-80],[-47.35,150],[-47.3,-40],[-47.25,90],[-47.2,-130],[-47.15,40],[-47.1,-70],[-47.05,200],[-47.0,-20],
[-46.95,-110],[-46.9,60],[-46.85,-30],[-46.8,140],[-46.75,-180],[-46.7,30],[-46.65,-60],[-46.6,100],[-46.55,-250],[-46.5,40],[-46.45,-90],[-46.4,180],[-46.35,-20],[-46.3,70],[-46.25,-140],[-46.2,20],[-46.15,-60],[-46.1,120],[-46.05,-200],[-46.0,50],[-45.95,-80],[-45.9,150],[-45.85,-30],[-45.8,-250],[-45.75,80],[-45.7,-160],[-45.65,-420],[-45.6,-490],[-45.55,40],[-45.5,-300],[-45.45,160],[-45.4,-80],[-45.35,-380],[-45.3,60],[-45.28,500],[-45.25,-150],[-45.2,220],[-45.15,-40],[-45.1,-330],[-45.05,90],[-45.0,-120],[-44.95,690],[-44.9,-50],[-44.85,160],[-44.8,-230],[-44.75,40],[-44.7,-90],[-44.65,120],[-44.6,-30],[-44.55,260],[-44.5,-140],[-44.45,50],[-44.4,-60],[-44.35,180],[-44.3,-20],[-44.25,90],[-44.2,-170],[-44.15,30],[-44.1,-80],[-44.05,130],[-44.0,-40],[-43.95,60],[-43.9,-200],[-43.85,20],[-43.8,-70],[-43.75,150],[-43.7,-30],[-43.65,80],[-43.6,-120],[-43.55,40],[-43.5,-50],[-43.45,240],[-43.4,-100],[-43.35,30],[-43.3,-150],[-43.25,70],[-43.2,-40],[-43.15,110],[-43.1,-200],[-43.05,20],[-43.0,-80],
[-42.95,-320],[-42.9,-430],[-42.85,60],[-42.8,-230],[-42.75,140],[-42.7,-60],[-42.66,370],[-42.66,550],[-42.62,450],[-42.6,-100],[-42.55,40],[-42.5,-180],[-42.45,90],[-42.4,-30],[-42.35,200],[-42.3,-120],[-42.25,50],[-42.2,-60],[-42.15,150],[-42.1,-240],[-42.05,30],[-42.0,-90],[-41.95,120],[-41.9,-20],[-41.85,-380],[-41.8,70],[-41.75,-150],[-41.7,40],[-41.65,-60],[-41.6,180],[-41.55,-100],[-41.5,20],[-41.45,-250],[-41.4,90],[-41.35,-40],[-41.3,150],[-41.25,-130],[-41.2,60],[-41.15,-30],[-41.1,-380],[-41.05,100],[-41.0,-70],[-40.95,40],[-40.9,-160],[-40.85,120],[-40.8,-20],[-40.75,80],[-40.7,-200],[-40.65,30],[-40.6,-90],[-40.55,160],[-40.5,-40],[-40.45,60],[-40.4,-120],[-40.35,20],[-40.3,-330],[-40.25,110],[-40.2,-60],[-40.15,40],[-40.1,-150],[-40.05,90],[-40.0,-30],
[-39.95,130],[-39.9,-80],[-39.85,40],[-39.8,-200],[-39.75,90],[-39.7,-40],[-39.65,160],[-39.6,-110],[-39.55,20],[-39.5,-60],[-39.45,110],[-39.4,470],[-39.35,-150],[-39.3,50],[-39.25,-30],[-39.2,180],[-39.15,-90],[-39.1,30],[-39.05,-170],[-39.0,60],[-38.95,-40],[-38.9,140],[-38.84,1190],[-38.84,1320],[-38.8,-220],[-38.75,80],[-38.7,-20],[-38.65,50],[-38.6,-130],[-38.55,100],[-38.5,-50],[-38.45,30],[-38.4,-90],[-38.35,150],[-38.3,-20],[-38.25,60],[-38.2,-140],[-38.15,80],[-38.1,-30],[-38.05,40],[-38.0,-60],[-37.95,90],[-37.9,-20],[-37.85,30],[-37.8,-60],
[-37.35,500],[-37.35,585],[-37.53,665],[-37.64,750],[-37.42,730],[-37.74,860],[-37.09,860],[-36.87,895],[-37.53,960],[-37.64,1005],[-37.5,1025],[-37.31,1090],[-36.98,1110],[-37.74,1190],[-37.42,1190],[-36.87,1220],[-37.64,1275],[-37.53,1340],[-37.09,1485],[-37.05,1520],[-37.74,1390],[-37.53,1650],[-37.64,1870],[-37.35,2290],[-36.33,860],[-36.07,530],[-36.22,1880],[-36.22,1960],[-36.22,2045],[-36.26,2240],[-37.75,-30],[-37.7,40],[-37.6,-80],[-37.5,60],[-37.4,-20],[-37.3,120],[-37.2,-60],[-37.1,30],[-37.0,80],
[-36.95,40],[-36.9,-120],[-36.85,220],[-36.8,-30],[-36.75,150],[-36.7,-80],[-36.65,300],[-36.6,60],[-36.55,-150],[-36.5,200],[-36.45,-40],[-36.4,100],[-36.35,-200],[-36.3,250],[-36.25,20],[-36.2,-90],[-36.15,160],[-36.1,-260],[-36.05,60],[-36.0,-130],[-35.95,180],[-35.9,-300],[-35.85,40],[-35.8,-180],[-35.75,120],[-35.7,-400],[-35.65,-60],[-35.6,-250],[-35.55,90],[-35.5,-150],[-35.45,-610],[-35.4,-350],[-35.35,30],[-35.3,-200],[-35.25,-480],[-35.2,80],[-35.15,-120],[-35.1,-300],[-35.05,40],[-35.0,-180],
[-34.95,-220],[-34.9,-700],[-34.88,-620],[-34.85,40],[-34.8,-420],[-34.78,-290],[-34.75,-100],[-34.7,120],[-34.65,-250],[-34.6,60],[-34.55,-150],[-34.5,-40],[-34.47,300],[-34.47,420],[-34.47,540],[-34.47,660],[-34.47,795],[-34.45,150],[-34.4,-180],[-34.35,80],[-34.3,-60],[-34.25,-300],[-34.2,30],[-34.15,-120],[-34.1,180],[-34.05,-60],[-34.03,270],[-34.03,420],[-34.03,570],[-34.0,-200],[-33.95,60],[-33.9,-100],[-33.85,140],[-33.8,-50],[-33.75,-420],[-33.72,-355],[-33.7,-220],[-33.65,90],[-33.6,-140],[-33.55,20],[-33.5,-260],[-33.45,110],[-33.4,-40],[-33.35,60],[-33.3,-180],[-33.25,150],[-33.2,-30],[-33.15,80],[-33.1,-120],[-33.05,240],[-33.05,400],[-33.05,560],[-33.05,730],[-33.0,-60],[-32.95,120],[-32.9,300],[-32.85,-200],[-32.8,40],[-32.75,-90],[-32.7,160],[-32.65,-30],[-32.6,-355],[-32.58,-420],[-32.55,70],[-32.5,-150],[-32.45,20],[-32.4,-80],[-32.35,130],[-32.3,-250],[-32.25,50],[-32.2,-40],[-32.15,180],[-32.1,-120],[-32.05,30],[-32.0,-200],[-31.95,90],[-31.9,-60],[-31.85,-380],[-31.8,-300],[-31.74,370],[-31.74,520],[-31.74,665],[-31.7,40],[-31.65,-150],[-31.6,100],[-31.55,-40],[-31.5,-220],[-31.45,60],[-31.4,-100],[-31.35,150],[-31.3,-30],[-31.25,80],[-31.2,-180],[-31.15,20],[-31.1,-70],[-31.05,130],[-31.0,-140],[-30.95,40],[-30.9,-60],[-30.86,-760],[-30.86,-490],[-30.8,90],[-30.75,-200],[-30.7,30],[-30.65,-100],[-30.6,170],[-30.55,-40],[-30.5,60],[-30.45,-150],[-30.4,20],[-30.35,-80],[-30.3,120],[-30.25,-30],[-30.2,50],[-30.15,-180],[-30.1,-20],[-30.05,80],[-30.0,-100],[-29.9,40],[-29.85,-220],[-29.8,-60],[-29.75,100],[-29.7,-30],[-29.65,-150],[-29.6,20],[-29.55,-80],[-29.5,60],[-29.45,-250],[-29.4,-40],[-29.35,30],[-29.3,-120],[-29.25,80],[-29.2,-60],[-29.15,10],[-29.1,-180],[-29.05,40],[-29.0,-30],[-28.9,-90],[-28.8,20],[-28.7,-60],[-28.6,30],[-28.5,-40],[-28.4,-150],[-28.3,10],[-28.2,-30],[-28.1,-280],[-28.05,-100],[-28.0,-20]];

const diffRidgeCore = [[-58.2,30],[-58.05,-40],[-57.9,60],[-57.75,-20],[-57.6,40],[-57.45,-60],[-57.3,20],[-57.15,-30],[-57.0,50],[-56.85,-50],[-56.7,10],[-56.55,-70],[-56.4,40],[-56.25,-20],[-56.1,60],[-55.95,-40],[-55.8,20],[-55.65,-30],[-55.5,70],[-55.35,-10],[-55.2,-50],[-55.05,30],[-54.9,-20],[-54.75,50],[-54.6,-40],[-54.45,10],[-54.3,-60],[-54.15,40],[-54.0,-10],[-53.85,30],[-53.7,-50],[-53.55,20],[-53.4,-30],[-53.25,60],[-53.1,-20],[-52.95,40],[-52.8,-40],[-52.65,10],[-52.5,-60],[-52.35,30],[-52.2,-10],[-52.05,50],[-51.9,-30],[-51.75,20],[-51.6,-50],[-51.45,40],[-51.3,-20],[-51.15,60],[-51.0,-40],[-50.85,10],[-50.7,-30],[-50.55,50],[-50.4,-10],[-50.25,30],[-50.1,-60],[-49.95,20],[-49.8,-40],[-49.65,40],[-49.5,-20],[-49.35,10],[-49.2,-50],[-49.05,30],[-48.9,-30],[-48.75,50],[-48.6,-10],[-48.45,20],[-48.3,-40],[-48.15,40],[-48.0,-20],[-47.85,10],[-47.7,-60],[-47.55,30],[-47.4,-10],[-47.25,50],[-47.1,-30],[-46.95,20],[-46.8,-50],[-46.65,40],[-46.5,-20],[-46.35,60],[-46.2,-40],[-46.05,10],[-45.9,-30],[-45.75,50],[-45.6,-10],[-45.45,30],[-45.3,-60],[-45.15,20],[-45.0,-40],[-44.85,40],[-44.7,-20],[-44.55,10],[-44.4,-50],[-44.25,30],[-44.1,-30],[-43.95,50],[-43.8,-10],[-43.65,20],[-43.5,-40],[-43.35,40],[-43.2,-20],[-43.05,10],[-42.9,-60],[-42.75,30],[-42.6,-10],[-42.45,50],[-42.3,-30],[-42.15,20],[-42.0,-50],[-41.85,40],[-41.7,-20],[-41.55,60],[-41.4,-40],[-41.25,10],[-41.1,-30],[-40.95,50],[-40.8,-10],[-40.65,30],[-40.5,-60],[-40.35,20],[-40.2,-40],[-40.05,40],[-39.9,-20],[-39.75,10],[-39.6,-50],[-39.45,30],[-39.3,-30],[-39.15,50],[-39.0,-10],[-38.85,20],[-38.7,-40],[-38.55,40],[-38.4,-20],[-38.25,10],[-38.1,-60],[-37.95,30],[-37.8,-10],[-37.65,50],[-37.5,-30],[-37.35,20],[-37.2,-50],[-37.05,40],[-36.9,-20],[-36.75,60],[-36.6,-40],[-36.45,10],[-36.3,-30],[-36.15,50],[-36.0,-10],[-35.85,30],[-35.7,-60],[-35.55,20],[-35.4,-40],[-35.25,40],[-35.1,-20],[-34.95,10],[-34.8,-50],[-34.65,30],[-34.5,-30],[-34.35,50],[-34.2,-10],[-34.05,20],[-33.9,-40],[-33.75,40],[-33.6,-20],[-33.45,10],[-33.3,-60],[-33.15,30],[-33.0,-10],[-32.85,50],[-32.7,-30],[-32.55,20],[-32.4,-50],[-32.25,40],[-32.1,-20],[-31.95,60],[-31.8,-40],[-31.65,10],[-31.5,-30],[-31.35,50],[-31.2,-10],[-31.05,30],[-30.9,-60],[-30.75,20],[-30.6,-40],[-30.45,40],[-30.3,-20],[-30.15,10],[-30.0,-50],[-29.85,30],[-29.7,-30],[-29.55,50],[-29.4,-10],[-29.25,20],[-29.1,-40],[-28.95,40],[-28.8,-20],[-28.65,10],[-28.5,-30],[-28.35,20],[-28.2,-10],
[-57.93,-150],[-57.63,180],[-57.33,-220],[-57.03,140],[-56.73,-180],[-56.43,200],[-56.13,-130],[-55.83,160],[-55.53,-240],[-55.23,120],[-54.93,-170],[-54.63,210],[-54.33,-140],[-54.03,100],[-53.73,-200],[-53.43,150],[-53.13,-120],[-52.83,190],[-52.53,-160],[-52.23,130],[-51.93,-210],[-51.63,170],[-51.33,-110],[-51.03,140],[-50.73,-190],[-50.43,120],[-50.13,-150],[-49.83,100],[-49.53,-130],[-49.23,160],[-48.93,-100],[-48.63,120],[-48.33,-140],[-48.03,90],[-47.73,-120],[-47.43,150],[-47.13,-90],[-46.83,110],[-46.53,-160],[-46.23,130],[-45.93,-110],[-45.63,170],[-45.33,-140],[-45.03,100],[-44.73,-190],[-44.43,120],[-44.13,-100],[-43.83,140],[-43.53,-130],[-43.23,90],[-42.93,-150],[-42.63,110],[-42.33,-120],[-42.03,160],[-41.73,-100],[-41.43,130],[-41.13,-170],[-40.83,100],[-40.53,-140],[-40.23,120],[-39.93,-110],[-39.63,150],[-39.33,-130],[-39.03,90],[-38.73,-160],[-38.43,110],[-38.13,-100],[-37.83,140],[-37.53,-120],[-37.23,180],[-36.93,-150],[-36.63,200],[-36.33,-170],[-36.03,130],[-35.73,-220],[-35.43,110],[-35.13,-190],[-34.83,150],[-34.53,-210],[-34.23,120],[-33.93,-160],[-33.63,190],[-33.33,-130],[-33.03,160],[-32.73,-200],[-32.43,140],[-32.13,-150],[-31.83,120],[-31.53,-180],[-31.23,100],[-30.93,-140],[-30.63,90],[-30.33,-160],[-30.03,110],[-29.73,-120],[-29.43,80],[-29.13,-140],[-28.83,60],[-28.53,-100],[-28.23,40]];

const diffEast = [[-27.9,0],[-27.8,0],[-27.7,-10],[-27.6,0],[-27.5,10],[-27.4,0],[-27.3,-10],[-27.2,0],[-27.1,0],[-27.0,0],[-26.9,10],[-26.8,0],[-26.7,-10],[-26.6,0],[-26.5,0],[-26.4,80],[-26.4,140],[-26.3,-10],[-26.2,0],[-26.1,0],[-26.0,0],[-25.9,10],[-25.8,0],[-25.7,0],[-25.6,0],[-25.5,-10],[-25.4,0],[-25.3,0],[-25.2,0],[-25.1,10],[-25.0,0],[-24.9,0],[-24.8,0],[-24.7,-10],[-24.6,0],[-24.5,0],[-24.4,0],[-24.3,10],[-24.2,0],[-24.1,0],[-24.0,0],[-23.9,-10],[-23.8,0],[-23.7,0],[-23.6,0],[-23.5,10],[-23.4,0],[-23.3,0],[-23.2,0],[-23.1,-10],[-23.0,0],[-22.9,0],[-22.8,0],[-22.7,10],[-22.6,0],[-22.5,0],[-22.4,0],[-22.3,-10],[-22.2,0],[-22.1,0],[-22.0,-10],[-21.9,-10],[-21.8,-10],[-21.7,0],[-21.6,-10],[-21.5,-10],[-21.4,-20],[-21.3,-20],[-21.2,-30],[-21.1,-40],[-21.0,-40],[-20.9,-50],[-20.8,-50],[-20.7,-40],[-20.6,-50],[-20.5,-60],[-20.4,-40],[-20.35,-30],[-20.2,-50],
[-20.16,80],[-20.16,200],[-20.16,340],[-20.16,690],[-20.16,850],[-20.16,1000],[-20.16,1290],[-20.16,1650],[-20.16,1760],[-20.16,1870],[-20.16,1980],[-20.1,-30],
[-20.0,-30],[-19.9,-30],[-19.8,-20],[-19.7,-30],[-19.6,-40],[-19.5,-40],[-19.4,-50],[-19.3,-60],[-19.2,-80],[-19.1,-90],[-19.0,-110],[-18.9,-160],[-18.8,-220],[-18.75,-180],[-18.7,-120],[-18.6,-70],[-18.5,-40],[-18.4,-30],[-18.3,-30],[-18.2,-20],[-18.1,-20],[-18.0,-20],[-17.9,-10],[-17.8,-10],[-17.7,-20],[-17.6,-20],[-17.5,-10],[-17.4,-20],[-17.3,-20],[-17.2,-10],[-17.1,-10],[-17.0,-20],[-16.9,-20],[-16.8,-20],[-16.7,-10],[-16.6,-20],[-16.5,-30],[-16.4,-30],[-16.3,-20],[-16.2,-60],
[-18.67,140],[-18.67,240],[-18.67,590],[-18.67,660],[-18.67,760],[-18.67,890],[-18.67,1025],[-18.67,1160],
[-16.15,-1400],[-16.15,-1240],[-16.1,-960],[-16.1,-690],[-16.08,-600],[-16.08,-520],[-16.05,-420],[-16.0,-160],[-15.95,-50],[-15.8,-40],[-15.65,-60],
[-14.59,-1770],[-14.7,-1570],[-14.75,-1400],[-14.78,-1300],[-14.8,-1200],[-14.9,-1080],[-14.88,-1020],[-14.7,-960],[-14.6,-900],[-14.55,-730],[-15.1,-830],[-15.05,-700],[-15.15,-620],[-15.1,-560],[-15.2,-500],[-15.1,-440],[-15.25,-400],[-15.15,-330],[-14.4,-550],[-14.35,-470],[-14.42,-400],[-14.38,-330],[-14.35,-260],[-15.3,-200],[-15.2,-120],[-15.05,-180],[-14.95,-100],[-14.85,-220],[-14.75,-140],[-14.65,-60],[-14.55,-200],[-14.45,-120],[-14.3,-170],[-14.25,-90],[-14.2,-240],[-15.35,-60],[-15.0,-30],[-14.8,-280],[-14.5,-330]];

// ---------- CHART ----------
const d277Top = [].concat(d277West, d277Shelf, d277Plain, d277Ridge, d277East);
const d279Top = [].concat(d279West, d279Shelf, d279Plain, d279Ridge, d279RidgeCore, d279East);
const diffAll = [].concat(diffWest, diffPlain, diffRidge, diffRidgeCore, diffEast);

const FONT = 'Liberation Sans, Arial, Helvetica, sans-serif';
const AXC = '#262626';
const RED = '#ec3424';
const minusFmt = v => String(v).replace('-', '\u2212');

function xAxisPair(gridIndex, name) {
  return [
    {gridIndex, type:'value', min:-80, max:-10, interval:10, position:'bottom',
     name, nameLocation:'middle', nameGap:40, nameMoveOverlap:false,
     nameTextStyle:{fontFamily:FONT, fontSize:24, color:'#000'},
     axisLine:{show:true, onZero:false, lineStyle:{color:AXC, width:1.3}},
     axisTick:{show:true, inside:true, length:10, lineStyle:{color:AXC, width:1.3}},
     axisLabel:{fontFamily:FONT, fontSize:23, color:'#000', margin:9, formatter:minusFmt},
     splitLine:{show:false}},
    {gridIndex, type:'value', min:-80, max:-10, interval:10, position:'top',
     axisLine:{show:true, onZero:false, lineStyle:{color:AXC, width:1.3}},
     axisTick:{show:true, inside:true, length:10, lineStyle:{color:AXC, width:1.3}},
     axisLabel:{show:false}, splitLine:{show:false}}
  ];
}
function yAxisPair(gridIndex, min, max, name) {
  return [
    {gridIndex, type:'value', inverse:true, min, max, interval:1000, position:'left',
     name, nameLocation:'middle', nameGap:70, nameRotate:90, nameMoveOverlap:false,
     nameTextStyle:{fontFamily:FONT, fontSize:24, color:'#000'},
     axisLine:{show:true, onZero:false, lineStyle:{color:AXC, width:1.3}},
     axisTick:{show:true, inside:true, length:10, lineStyle:{color:AXC, width:1.3}},
     axisLabel:{fontFamily:FONT, fontSize:23, color:'#000', margin:5, formatter:minusFmt},
     splitLine:{show:false}},
    {gridIndex, type:'value', inverse:true, min, max, interval:1000, position:'right',
     axisLine:{show:true, onZero:false, lineStyle:{color:AXC, width:1.3}},
     axisTick:{show:true, inside:true, length:10, lineStyle:{color:AXC, width:1.3}},
     axisLabel:{show:false}, splitLine:{show:false}}
  ];
}

const chart = echarts.init(document.getElementById('chart'), null, {renderer:'canvas'});
chart.setOption({
  animation:false,
  backgroundColor:'#fff',
  title:[
    {text:'Comparison of Bathymetry between D277 and D279', left:659, top:13, textAlign:'center',
     textStyle:{fontFamily:FONT, fontSize:24, fontWeight:'bold', color:'#000'}},
    {text:'Difference between D277 and D279 bathymetry', left:659, top:505, textAlign:'center',
     textStyle:{fontFamily:FONT, fontSize:23, fontWeight:'bold', color:'#000'}}
  ],
  legend:{
    data:[{name:'D277', itemStyle:{color:'#000'}}, {name:'D279', itemStyle:{color:RED}}],
    orient:'vertical', left:1042, top:67, icon:'circle', itemWidth:4.5, itemHeight:4.5,
    itemGap:5, padding:[4,14,4,31], backgroundColor:'#fff', borderColor:'#222', borderWidth:1.2,
    formatter: n => '{g| }{t|' + n + '}',
    textStyle:{fontFamily:FONT, fontSize:23, color:'#000', lineHeight:24,
      rich:{g:{width:26, lineHeight:24}, t:{fontFamily:FONT, fontSize:23, color:'#000', lineHeight:24}}},
    selectedMode:false, z:10
  },
  grid:[
    {left:122, right:37, top:56, height:354},
    {left:122, right:37, top:545, height:355}
  ],
  xAxis:[].concat(xAxisPair(0,'Longitude'), xAxisPair(1,'Longitude')),
  yAxis:[].concat(yAxisPair(0,0,7000,'Depth /m'), yAxisPair(1,-4000,3000,'D279 \u2013 D277 /m')),
  series:[
    {name:'D277', type:'scatter', xAxisIndex:0, yAxisIndex:0, data:d277Top, symbol:'circle',
     symbolSize:4, itemStyle:{color:'#000', opacity:1}, silent:true, z:2},
    {name:'D279', type:'scatter', xAxisIndex:0, yAxisIndex:0, data:d279Top, symbol:'circle',
     symbolSize:4.2, itemStyle:{color:RED, opacity:1}, silent:true, z:3},
    {name:'Difference', type:'scatter', xAxisIndex:2, yAxisIndex:2, data:diffAll, symbol:'circle',
     symbolSize:3.8, itemStyle:{color:'#000', opacity:1}, silent:true, z:2}
  ]
});
</script>
</body>
</html>
